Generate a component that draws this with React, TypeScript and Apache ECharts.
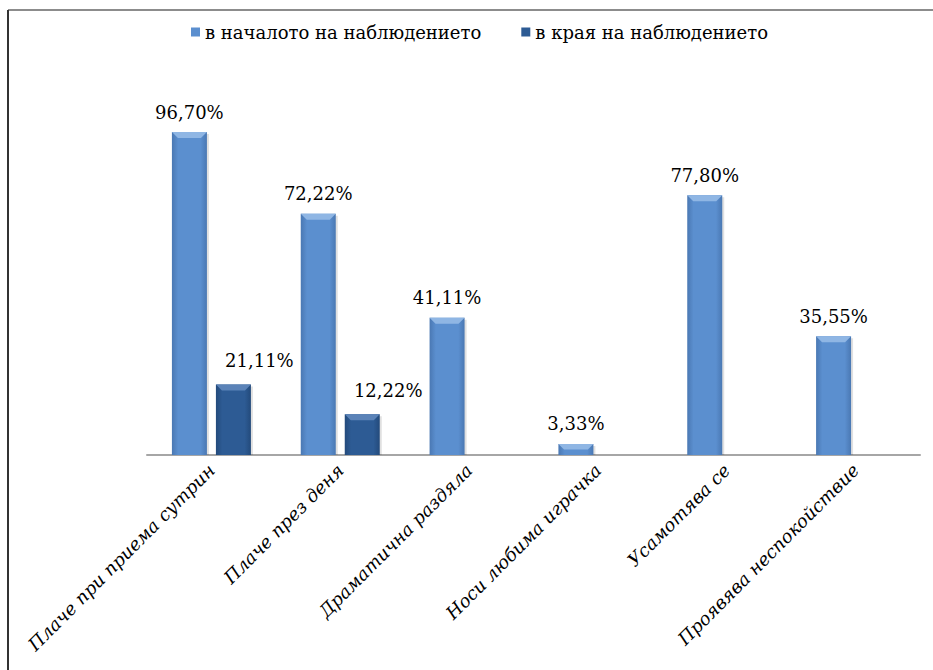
import React, { useEffect, useRef } from "react";
import * as echarts from "echarts";

const categories = [
  "Плаче при приема сутрин",
  "Плаче през деня",
  "Драматична раздяла",
  "Носи любима играчка",
  "Усамотява се",
  "Проявява неспокойствие",
];
const seriesNames = ["в началото на наблюдението", "в края на наблюдението"];
const startValues: (number | null)[] = [96.7, 72.22, 41.11, 3.33, 77.8, 35.55];
const endValues: (number | null)[] = [21.11, 12.22, null, null, null, null];

const FONT = "DejaVu Serif";

const palettes = [
  { main: "#5B8FCF", edge: "#4A78B3", bevel: "#8FB6E4", legend: "#5B8FCF" },
  { main: "#2D5B94", edge: "#234A7B", bevel: "#5B83B8", legend: "#2D5B94" },
];

function fmt(v: number) {
  return v.toFixed(2).replace(".", ",") + "%";
}

export default function App() {
  const ref = useRef<HTMLDivElement>(null);
  useEffect(() => {
    if (!ref.current) return;
    const chart = echarts.init(ref.current, undefined, { renderer: "svg" });
    const barW = 35;
    const gap = 9;

    const makeRender = (sIdx: number) => (params: any, api: any) => {
      const i = api.value(0);
      const v = api.value(1);
      const pt = api.coord([i, v]);
      const basePt = api.coord([i, 0]);
      const off = sIdx === 0 ? -(barW + gap) / 2 : (barW + gap) / 2;
      const cx = pt[0] + off;
      const top = pt[1];
      const base = basePt[1];
      const x0 = cx - barW / 2;
      const x1 = cx + barW / 2;
      const h = base - top;
      const b = Math.min(6, h / 2);
      const p = palettes[sIdx];
      const grad = new echarts.graphic.LinearGradient(0, 0, 1, 0, [
        { offset: 0, color: p.edge },
        { offset: 0.18, color: p.main },
        { offset: 0.82, color: p.main },
        { offset: 1, color: p.edge },
      ]);
      const labelDx = sIdx === 0 ? 0 : 26;
      const labelGap = sIdx === 0 ? 11 : 15;
      return {
        type: "group",
        children: [
          {
            type: "rect",
            shape: { x: x0 + 2, y: top + 2, width: barW, height: h - 2 },
            style: { fill: "rgba(0,0,0,0.12)" },
          },
          {
            type: "rect",
            shape: { x: x0, y: top, width: barW, height: h },
            style: { fill: grad },
          },
          {
            type: "polygon",
            shape: {
              points: [
                [x0, top],
                [x1, top],
                [x1 - b, top + b],
                [x0 + b, top + b],
              ],
            },
            style: { fill: p.bevel },
          },
          {
            type: "text",
            style: {
              text: fmt(v),
              x: cx + labelDx,
              y: top - labelGap,
              align: "center",
              verticalAlign: "bottom",
              fill: "#000",
              fontSize: 18,
              fontFamily: FONT,
            },
          },
        ],
      };
    };

    const toData = (arr: (number | null)[]) =>
      arr.flatMap((v, i) => (v == null ? [] : [[i, v]]));

    chart.setOption({
      animation: false,
      backgroundColor: "#fff",
      textStyle: { fontFamily: FONT },
      legend: {
        data: seriesNames,
        left: 186,
        top: 18,
        itemWidth: 9,
        itemHeight: 9,
        itemGap: 40,
        icon: "rect",
        textStyle: { fontSize: 18, fontFamily: FONT, color: "#000" },
      },
      grid: { left: 147, right: 13, top: 121, bottom: 215 },
      xAxis: {
        type: "category",
        data: categories,
        axisLine: { lineStyle: { color: "#A6A6A6", width: 2 } },
        axisTick: { show: false },
        axisLabel: {
          rotate: 45,
          interval: 0,
          margin: 12,
          fontSize: 18,
          fontStyle: "italic",
          fontFamily: FONT,
          color: "#000",
        },
      },
      yAxis: { type: "value", min: 0, max: 100, show: false },
      series: [
        {
          type: "custom",
          name: seriesNames[0],
          data: toData(startValues),
          encode: { x: 0, y: 1 },
          itemStyle: { color: palettes[0].legend },
          renderItem: makeRender(0),
        },
        {
          type: "custom",
          name: seriesNames[1],
          data: toData(endValues),
          encode: { x: 0, y: 1 },
          itemStyle: { color: palettes[1].legend },
          renderItem: makeRender(1),
        },
      ],
      graphic: [
        {
          type: "line",
          shape: { x1: 8, y1: 10, x2: 933, y2: 10 },
          style: { stroke: "#8C8C8C", lineWidth: 2 },
        },
        {
          type: "line",
          shape: { x1: 8, y1: 10, x2: 8, y2: 670 },
          style: { stroke: "#333", lineWidth: 2 },
        },
      ],
    });
    return () => chart.dispose();
  }, []);
  return (
    <div
      ref={ref}
      style={{ position: "absolute", left: 0, top: 0, width: 933, height: 670 }}
    />
  );
}
